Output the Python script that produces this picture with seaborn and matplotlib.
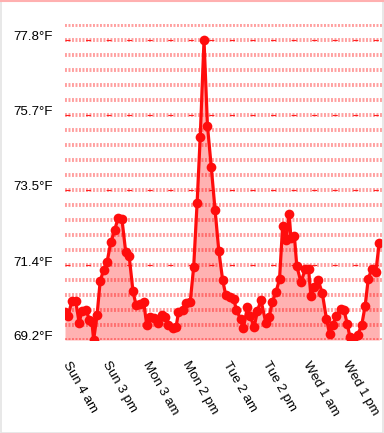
import numpy as np
import pandas as pd
import matplotlib
matplotlib.use("Agg")
import matplotlib.pyplot as plt
import matplotlib.transforms as mtransforms
from matplotlib.patches import Rectangle
from matplotlib.lines import Line2D
import seaborn as sns

# ---- data (hours since Sun 4 am, temperature in °F) ----
hours = [0.0, 0.9, 2.0, 3.1, 4.1, 4.9, 6.1, 7.1, 7.8, 8.3,
         9.3, 10.2, 11.2, 12.2, 13.3, 14.4, 15.4, 16.5, 17.6, 18.6,
         19.7, 20.6, 21.8, 22.8, 23.7, 24.7, 25.8, 27.0, 28.0, 29.0,
         30.0, 31.2, 32.2, 32.9, 34.1, 35.2, 36.3, 37.3, 38.3, 39.2,
         40.3, 41.3, 42.4, 43.5, 44.6, 45.7, 46.6, 47.7, 48.9, 49.7,
         50.9, 51.7, 52.9, 53.7, 54.8, 55.8, 56.8, 58.2, 59.2, 60.1,
         61.2, 62.2, 63.1, 64.1, 65.0, 65.5, 66.5, 67.2, 68.4, 69.7,
         70.6, 71.3, 72.2, 73.4, 74.6, 75.8, 76.7, 77.6, 78.7, 79.9,
         80.9, 81.8, 82.6, 83.6, 84.8, 86.0, 87.0, 87.9, 88.9, 90.1,
         91.1]
temps_f = [70.00, 69.89, 70.32, 70.32, 69.69, 70.03, 70.06, 69.77, 69.72, 69.20,
           69.92, 70.89, 71.21, 71.44, 72.01, 72.35, 72.70, 72.67, 71.72, 71.61,
           70.60, 70.20, 70.23, 70.29, 69.63, 69.86, 69.83, 69.70, 69.92, 69.86,
           69.63, 69.54, 69.57, 70.00, 70.06, 70.26, 70.29, 71.29, 73.13, 75.02,
           77.80, 75.34, 74.16, 72.93, 71.75, 70.92, 70.49, 70.43, 70.38, 70.06,
           69.80, 69.54, 70.15, 69.90, 69.56, 70.03, 70.35, 69.70, 69.86, 70.30,
           70.58, 70.96, 72.48, 72.07, 72.80, 72.12, 72.18, 71.32, 70.86, 71.24,
           71.24, 70.45, 70.71, 70.91, 70.54, 69.80, 69.38, 69.63, 69.90, 70.09,
           70.05, 69.67, 69.29, 69.20, 69.34, 69.62, 70.17, 70.94, 71.24, 71.14,
           71.99]

tick_hours = [0.0, 11.6, 23.2, 34.8, 46.4, 58.0, 69.6, 81.2]
tick_labels = ["Sun 4 am", "Sun 3 pm", "Mon 3 am", "Mon 2 pm",
               "Tue 2 am", "Tue 2 pm", "Wed 1 am", "Wed 1 pm"]

y_ticks = [69.2, 71.35, 73.5, 75.65, 77.8]
y_tick_labels = ["69.2°F", "71.4°F", "73.5°F", "75.7°F", "77.8°F"]
grid_levels = [69.2 + 0.43 * k for k in range(22)]

df = pd.DataFrame({"hours": hours, "temp": temps_f})

sns.set_theme(style="white")
plt.rcParams["font.family"] = ["Liberation Sans", "DejaVu Sans"]

W, H = 384, 433
fig = plt.figure(figsize=(W / 100, H / 100), dpi=100)
fig.patch.set_facecolor("white")

ax_left, ax_right = 65, 382
ax_top, ax_bot = 24, 340
ax = fig.add_axes([ax_left / W, 1 - ax_bot / H, (ax_right - ax_left) / W, (ax_bot - ax_top) / H])
ax.set_facecolor("white")

# grid (pink dotted bars on every level)
ax.hlines(grid_levels, 0, 1, transform=ax.get_yaxis_transform(),
          colors="#ffa0a0", linewidth=2.8, linestyles=(0, (0.5, 0.4)), zorder=0.5)
# major red thin dashes
ax.hlines(y_ticks, 0, 1, transform=ax.get_yaxis_transform(),
          colors="#ff2020", linewidth=0.8, linestyles=(0, (4.5, 14)), zorder=0.6)

ax.fill_between(df["hours"], df["temp"], 69.2, color="#ff0000", alpha=0.3,
                linewidth=0, zorder=1)
sns.lineplot(data=df, x="hours", y="temp", ax=ax, color="#ff0d0d",
             linewidth=2.3, marker="o", markersize=7, markeredgewidth=0,
             zorder=3)

ax.set_xlim(0, 91.9)
ax.set_ylim(69.2, 69.2 + (340 - 24) * 8.6 / 300)

ax.set_yticks(y_ticks)
ax.set_yticklabels(y_tick_labels, fontsize=9.6, color="black")
ax.set_xticks(tick_hours)
ax.set_xticklabels(tick_labels, fontsize=9.6, color="black", rotation=-60,
                   ha="left", va="bottom", rotation_mode="anchor")
ax.tick_params(axis="y", length=0, pad=9)
ax.tick_params(axis="x", length=0, pad=19)
ax.set_xlabel("")
ax.set_ylabel("")
for s in ax.spines.values():
    s.set_visible(False)

off = mtransforms.ScaledTranslation(0, 4 / 100, fig.dpi_scale_trans)
for lab in ax.get_yticklabels():
    lab.set_transform(lab.get_transform() + off)
offx = mtransforms.ScaledTranslation(-5 / 100, 1 / 100, fig.dpi_scale_trans)
for lab in ax.get_xticklabels():
    lab.set_transform(lab.get_transform() + offx)

# figure border
fig.patches.append(Rectangle((0.5 / W, 0.5 / H), 1 - 1.5 / W, 1 - 1.5 / H,
                             transform=fig.transFigure, fill=False,
                             edgecolor="#e4e4e4", linewidth=1.2))
fig.lines.append(Line2D([0, 1], [1 - 0.8 / H, 1 - 0.8 / H], transform=fig.transFigure,
                        color="#ffb0b0", linewidth=1.5))

fig.savefig("out.png", dpi=100)
